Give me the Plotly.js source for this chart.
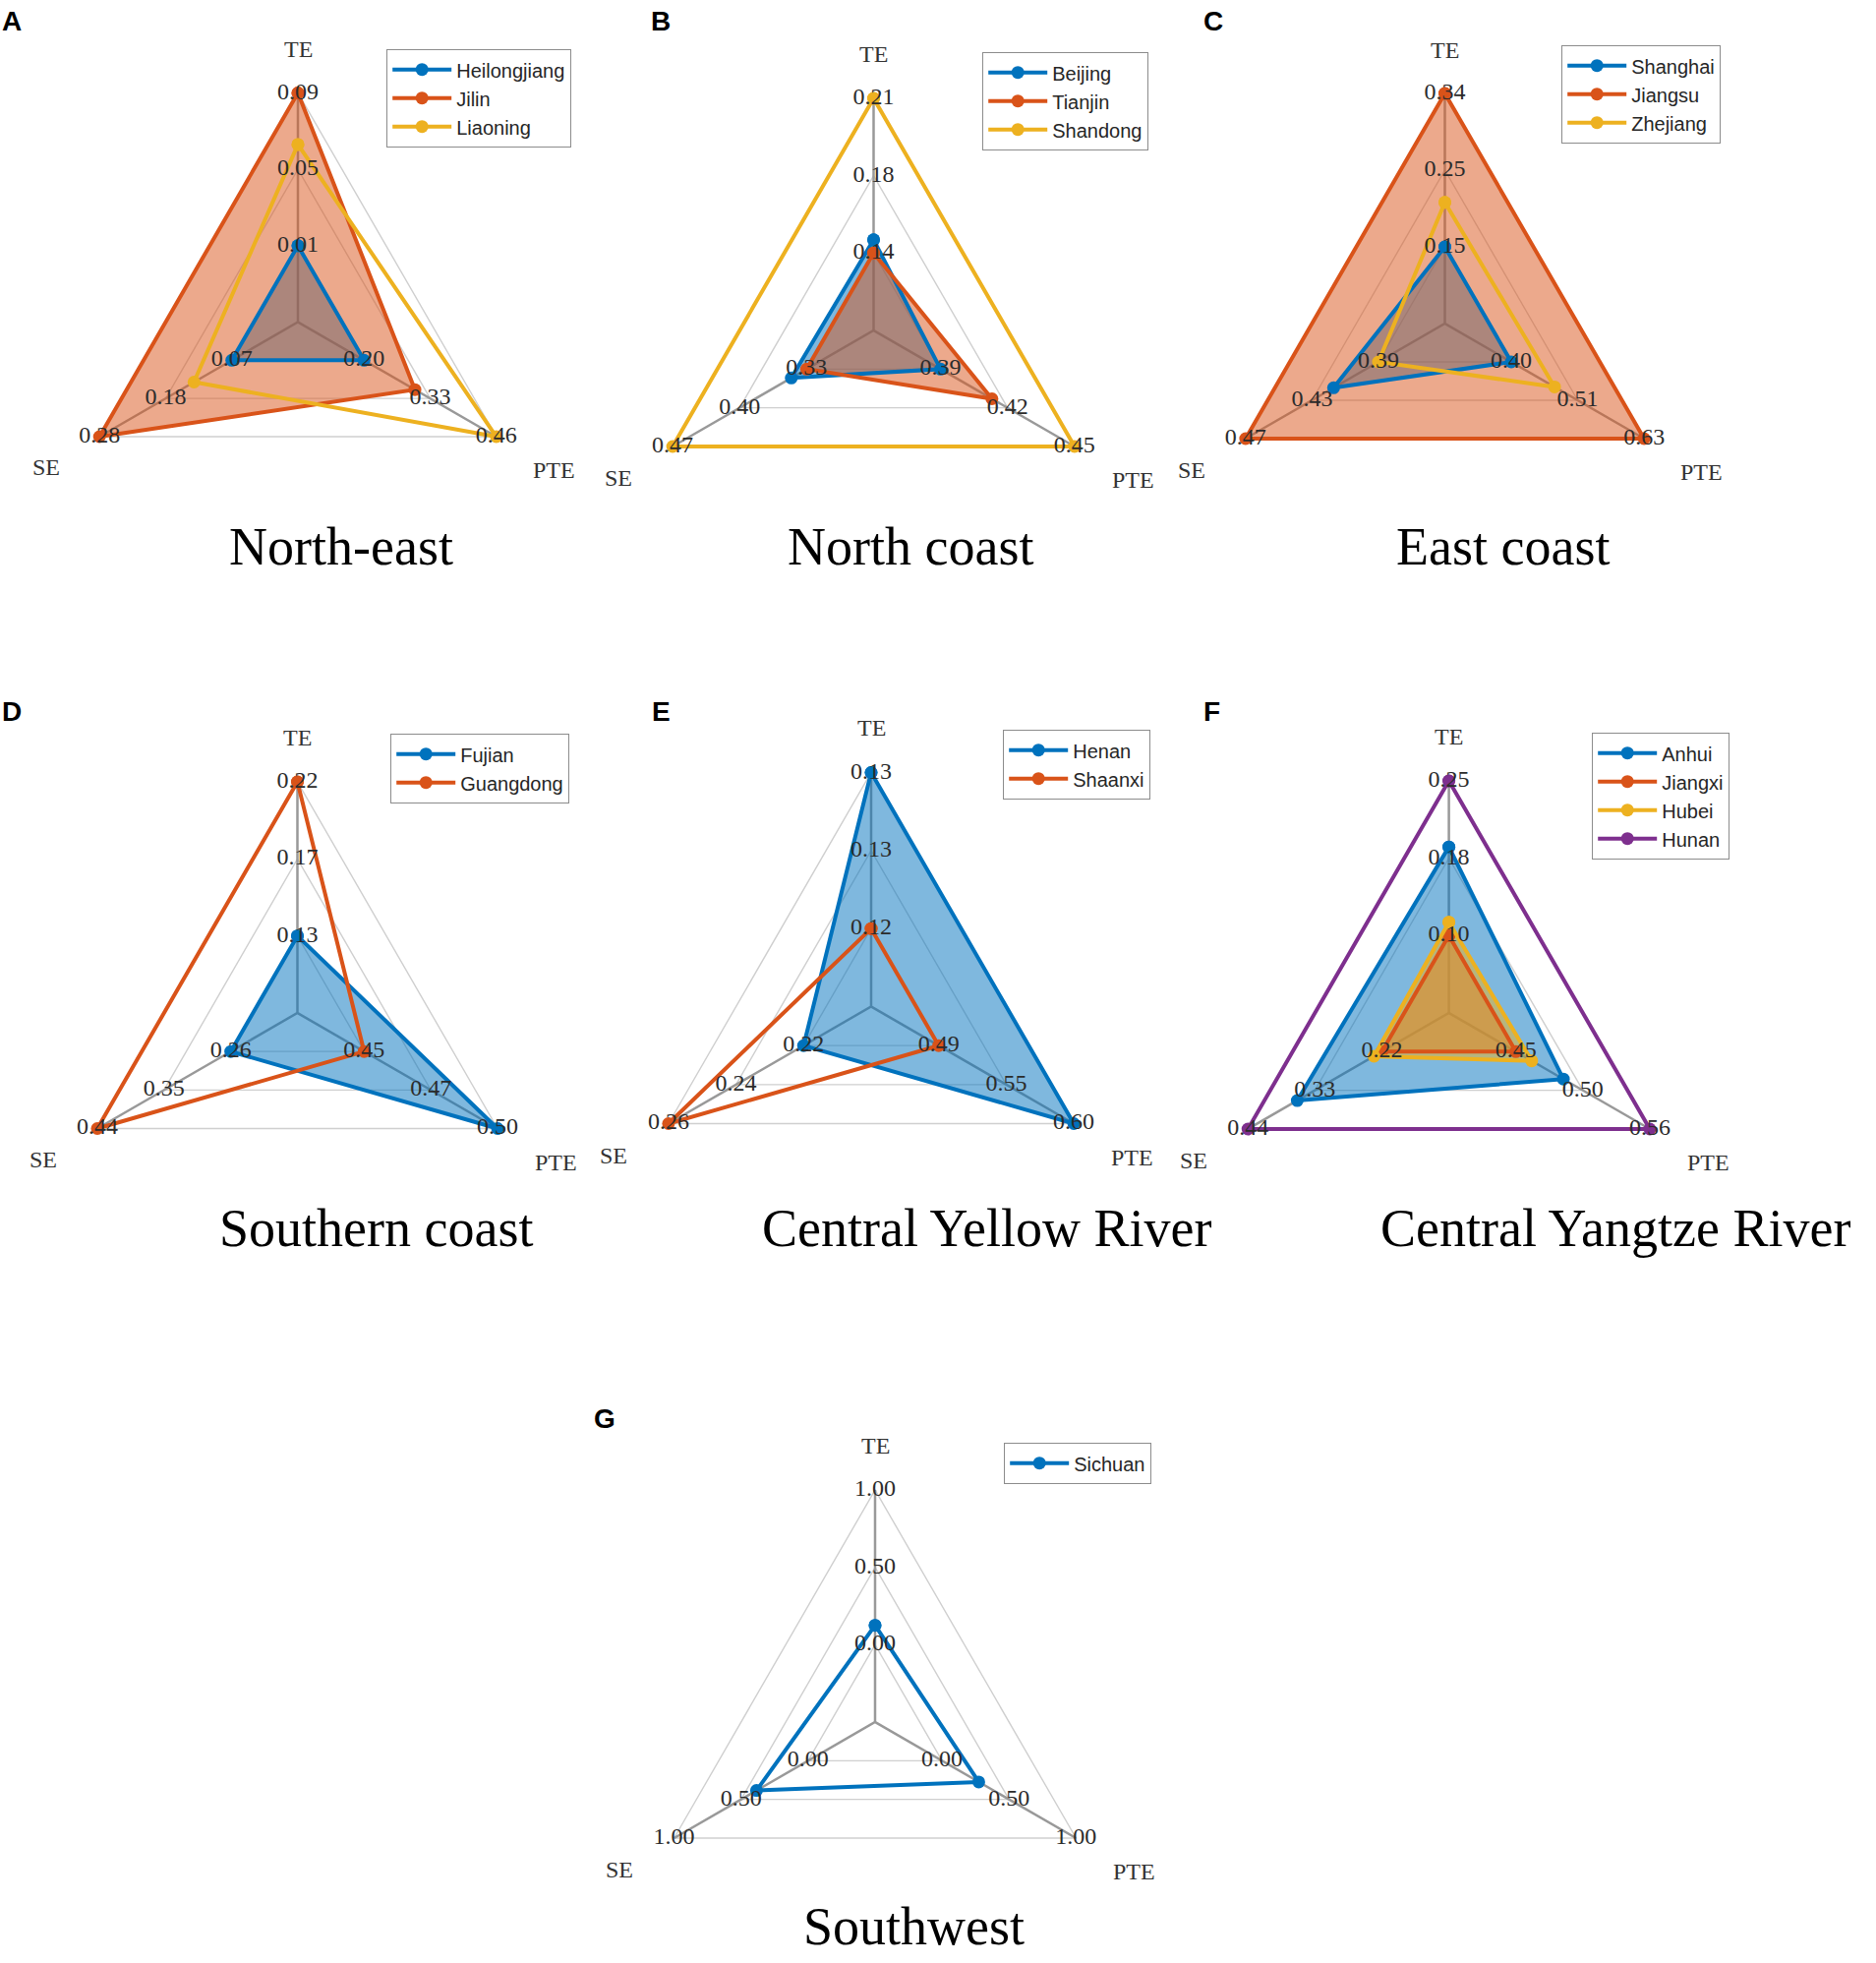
<!DOCTYPE html>
<html>
<head>
<meta charset="utf-8">
<script src="https://cdn.plot.ly/plotly-3.0.1.min.js"></script>
<style>html,body{margin:0;padding:0;background:#fff}#chart{width:1908px;height:1996px}</style>
</head>
<body>
<div id="chart"></div>
<script>
// ---------------- data ----------------
const axisNames = ['TE', 'PTE', 'SE'];
const panelLetters = ['A', 'B', 'C', 'D', 'E', 'F', 'G'];
const regionTitles = ['North-east', 'North coast', 'East coast', 'Southern coast',
  'Central Yellow River', 'Central Yangtze River', 'Southwest'];

// A  North-east
const neProvinces = ['Heilongjiang', 'Jilin', 'Liaoning'];
const neTE  = [0.01, 0.09, 0.063];
const nePTE = [0.20, 0.30, 0.46];
const neSE  = [0.07, 0.28, 0.13];
const neTicksTE = ['0.01', '0.05', '0.09'];
const neTicksPTE = ['0.20', '0.33', '0.46'];
const neTicksSE = ['0.07', '0.18', '0.28'];

// B  North coast
const ncProvinces = ['Beijing', 'Tianjin', 'Shandong'];
const ncTE  = [0.146, 0.14, 0.21];
const ncPTE = [0.39, 0.413, 0.45];
const ncSE  = [0.346, 0.33, 0.47];
const ncTicksTE = ['0.14', '0.18', '0.21'];
const ncTicksPTE = ['0.39', '0.42', '0.45'];
const ncTicksSE = ['0.33', '0.40', '0.47'];

// C  East coast
const ecProvinces = ['Shanghai', 'Jiangsu', 'Zhejiang'];
const ecTE  = [0.15, 0.34, 0.205];
const ecPTE = [0.40, 0.63, 0.475];
const ecSE  = [0.417, 0.47, 0.39];
const ecTicksTE = ['0.15', '0.25', '0.34'];
const ecTicksPTE = ['0.40', '0.51', '0.63'];
const ecTicksSE = ['0.39', '0.43', '0.47'];

// D  Southern coast
const scProvinces = ['Fujian', 'Guangdong'];
const scTE  = [0.13, 0.22];
const scPTE = [0.50, 0.45];
const scSE  = [0.26, 0.44];
const scTicksTE = ['0.13', '0.17', '0.22'];
const scTicksPTE = ['0.45', '0.47', '0.50'];
const scTicksSE = ['0.26', '0.35', '0.44'];

// E  Central Yellow River
const cyProvinces = ['Henan', 'Shaanxi'];
const cyTE  = [0.134, 0.12];
const cyPTE = [0.60, 0.49];
const cySE  = [0.22, 0.26];
const cyTicksTE = ['0.12', '0.13', '0.13'];
const cyTicksPTE = ['0.49', '0.55', '0.60'];
const cyTicksSE = ['0.22', '0.24', '0.26'];

// F  Central Yangtze River
const czProvinces = ['Anhui', 'Jiangxi', 'Hubei', 'Hunan'];
const czTE  = [0.186, 0.10, 0.113, 0.25];
const czPTE = [0.489, 0.45, 0.463, 0.56];
const czSE  = [0.359, 0.22, 0.233, 0.44];
const czTicksTE = ['0.10', '0.18', '0.25'];
const czTicksPTE = ['0.45', '0.50', '0.56'];
const czTicksSE = ['0.22', '0.33', '0.44'];

// G  Southwest
const swProvinces = ['Sichuan'];
const swTE  = [0.125];
const swPTE = [0.274];
const swSE  = [0.385];
const swTicksTE = ['0.00', '0.50', '1.00'];
const swTicksPTE = ['0.00', '0.50', '1.00'];
const swTicksSE = ['0.00', '0.50', '1.00'];

// ---------------- styles / layout ----------------
const seriesColors = ['#0072BD', '#D95319', '#EDB120', '#7E2F8E'];
const seriesFill = ['rgba(0,114,189,0.5)', 'rgba(217,83,25,0.5)', 'rgba(237,177,32,0.5)', 'rgba(126,47,142,0.5)'];

const panels = [
  {names: neProvinces, TE: neTE, PTE: nePTE, SE: neSE, ticks: [neTicksTE, neTicksPTE, neTicksSE], filled: [true, true, false]},
  {names: ncProvinces, TE: ncTE, PTE: ncPTE, SE: ncSE, ticks: [ncTicksTE, ncTicksPTE, ncTicksSE], filled: [true, true, false]},
  {names: ecProvinces, TE: ecTE, PTE: ecPTE, SE: ecSE, ticks: [ecTicksTE, ecTicksPTE, ecTicksSE], filled: [true, true, false]},
  {names: scProvinces, TE: scTE, PTE: scPTE, SE: scSE, ticks: [scTicksTE, scTicksPTE, scTicksSE], filled: [true, false]},
  {names: cyProvinces, TE: cyTE, PTE: cyPTE, SE: cySE, ticks: [cyTicksTE, cyTicksPTE, cyTicksSE], filled: [true, false]},
  {names: czProvinces, TE: czTE, PTE: czPTE, SE: czSE, ticks: [czTicksTE, czTicksPTE, czTicksSE], filled: [true, true, true, false]},
  {names: swProvinces, TE: swTE, PTE: swPTE, SE: swSE, ticks: [swTicksTE, swTicksPTE, swTicksSE], filled: [false]}
];

// geometry in page pixels (centre, radius of outer ring, legend top-left, letter, title)
const geom = [
  {cx: 303,    cy: 327.5, R: 233, lg: [393, 50],   lt: [12, 22],   tt: [347, 556]},
  {cx: 888.5,  cy: 336,   R: 236, lg: [999, 53],   lt: [672, 22],  tt: [926, 556]},
  {cx: 1469.5, cy: 329,   R: 234, lg: [1588, 46],  lt: [1234, 22], tt: [1528, 556]},
  {cx: 302.5,  cy: 1030,  R: 235, lg: [397, 746],  lt: [12, 723],  tt: [382, 1249]},
  {cx: 886,    cy: 1023.5,R: 238, lg: [1020, 742], lt: [672, 723], tt: [1004, 1249]},
  {cx: 1473.6, cy: 1030,  R: 236, lg: [1619, 745], lt: [1232, 723],tt: [1643, 1249]},
  {cx: 890,    cy: 1751,  R: 236, lg: [1021, 1467],lt: [615, 1442],tt: [929, 1959]}
];
const axisAngles = [90, -30, 210];        // TE, PTE, SE directions (deg)
const nameRadius = [1.19, 1.29, 1.27];    // axis-name offsets in units of the outer ring
const rMax = 1.035;                        // small headroom so outer lines are not clipped

const W = 1908, H = 1996;
const serif = 'Liberation Serif, Times New Roman, serif';
const sans = 'Liberation Sans, Arial, sans-serif';

const traces = [];
const layout = {
  width: W, height: H,
  margin: {l: 0, r: 0, t: 0, b: 0},
  paper_bgcolor: '#ffffff',
  showlegend: true,
  annotations: []
};

panels.forEach((p, i) => {
  const g = geom[i];
  const sub = i === 0 ? 'polar' : 'polar' + (i + 1);
  const leg = i === 0 ? 'legend' : 'legend' + (i + 1);
  const n = p.names.length;
  const ranges = axisNames.map(a => {
    const v = p[a];
    return n > 1 ? [Math.min(...v), Math.max(...v)] : [0, 1];
  });
  const toR = (v, k) => 1 / 3 + (2 / 3) * (v - ranges[k][0]) / (ranges[k][1] - ranges[k][0]);
  const Rp = g.R * rMax;

  layout[sub] = {
    domain: {
      x: [(g.cx - Rp) / W, (g.cx + Rp) / W],
      y: [1 - (g.cy + Rp) / H, 1 - (g.cy - Rp) / H]
    },
    bgcolor: 'rgba(0,0,0,0)',
    gridshape: 'linear',
    radialaxis: {
      range: [0, rMax], tickmode: 'array', tickvals: [1 / 3, 2 / 3, 1],
      showticklabels: false, ticks: '', showline: false,
      gridcolor: '#cfcfcf', gridwidth: 1.4
    },
    angularaxis: {
      type: 'category', categoryarray: axisNames, rotation: 90, direction: 'clockwise',
      showticklabels: false, ticks: '', showline: false, showgrid: false
    }
  };

  // spokes (centre to outer ring on every axis)
  traces.push({
    type: 'scatterpolar', subplot: sub, mode: 'lines',
    r: [1, 0, 1, 0, 1], theta: [axisNames[0], axisNames[0], axisNames[1], axisNames[1], axisNames[2]],
    line: {color: '#999999', width: 2.5}, showlegend: false, hoverinfo: 'skip'
  });

  // fills (below all lines)
  for (let s = 0; s < n; s++) {
    if (!p.filled[s]) continue;
    const r = axisNames.map((a, k) => toR(p[a][s], k));
    traces.push({
      type: 'scatterpolar', subplot: sub, mode: 'lines',
      r: r.concat([r[0]]), theta: axisNames.concat([axisNames[0]]),
      fill: 'toself', fillcolor: seriesFill[s],
      line: {width: 0, color: 'rgba(0,0,0,0)'},
      showlegend: false, hoverinfo: 'skip'
    });
  }
  // lines and markers
  for (let s = 0; s < n; s++) {
    const r = axisNames.map((a, k) => toR(p[a][s], k));
    traces.push({
      type: 'scatterpolar', subplot: sub, mode: 'lines+markers', name: p.names[s],
      legend: leg,
      r: r.concat([r[0]]), theta: axisNames.concat([axisNames[0]]),
      line: {color: seriesColors[s], width: 4},
      marker: {color: seriesColors[s], size: 13},
      cliponaxis: false
    });
  }
  // tick value labels on each spoke
  const tr = [], tth = [], ttx = [];
  axisNames.forEach((a, k) => {
    [1 / 3, 2 / 3, 1].forEach((rv, j) => { tr.push(rv); tth.push(a); ttx.push(p.ticks[k][j]); });
  });
  traces.push({
    type: 'scatterpolar', subplot: sub, mode: 'text', r: tr, theta: tth, text: ttx,
    textposition: 'middle center', textfont: {family: serif, size: 24, color: '#2b2b2b'},
    showlegend: false, hoverinfo: 'skip', cliponaxis: false
  });

  // axis names outside the outer ring
  axisNames.forEach((a, k) => {
    const ang = axisAngles[k] * Math.PI / 180;
    const px = g.cx + nameRadius[k] * g.R * Math.cos(ang);
    const py = g.cy - nameRadius[k] * g.R * Math.sin(ang);
    layout.annotations.push({
      xref: 'paper', yref: 'paper', x: px / W, y: 1 - py / H,
      xanchor: 'center', yanchor: 'middle', showarrow: false,
      text: a, font: {family: serif, size: 24, color: '#333333'}
    });
  });

  layout[leg] = {
    x: g.lg[0] / W, y: 1 - g.lg[1] / H, xanchor: 'left', yanchor: 'top',
    bgcolor: '#ffffff', bordercolor: '#8c8c8c', borderwidth: 1.2,
    font: {family: sans, size: 20, color: '#262626'},
    itemwidth: 60, tracegroupgap: 0, traceorder: 'normal'
  };

  layout.annotations.push({
    xref: 'paper', yref: 'paper', x: g.lt[0] / W, y: 1 - g.lt[1] / H,
    xanchor: 'center', yanchor: 'middle', showarrow: false,
    text: '<b>' + panelLetters[i] + '</b>', font: {family: sans, size: 28, color: '#000'}
  });
  layout.annotations.push({
    xref: 'paper', yref: 'paper', x: g.tt[0] / W, y: 1 - g.tt[1] / H,
    xanchor: 'center', yanchor: 'middle', showarrow: false,
    text: regionTitles[i], font: {family: serif, size: 54, color: '#000'}
  });
});

Plotly.newPlot('chart', traces, layout, {staticPlot: true});
</script>
</body>
</html>
